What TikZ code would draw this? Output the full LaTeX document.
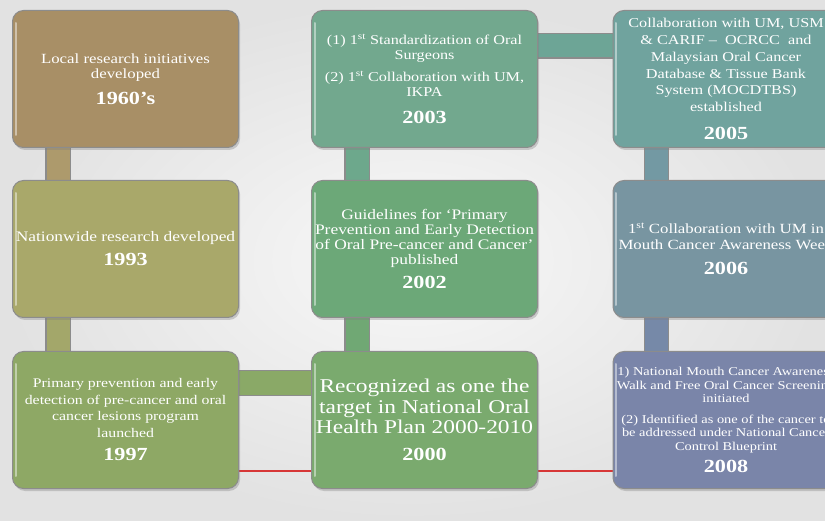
\documentclass[tikz,border=0pt]{standalone}
\usepackage{fontspec}
\setmainfont{Liberation Serif}[FakeStretch=1.2]
\usetikzlibrary{shadows}
\pgfdeclarelayer{bg}
\pgfsetlayers{bg,main}
\definecolor{bgin}{RGB}{248,248,248}
\definecolor{bgout}{RGB}{226,226,226}
\definecolor{cA}{HTML}{A88F66}
\definecolor{cB}{HTML}{A9A86A}
\definecolor{cC}{HTML}{8EA865}
\definecolor{cD}{HTML}{72A88E}
\definecolor{cE}{HTML}{6CA878}
\definecolor{cF}{HTML}{7AAA6E}
\definecolor{cG}{HTML}{70A39E}
\definecolor{cH}{HTML}{7895A1}
\definecolor{cI}{HTML}{7A85A9}
\definecolor{bAB}{HTML}{AD9A6C}
\definecolor{bBC}{HTML}{A3A76A}
\definecolor{bDE}{HTML}{6DA88C}
\definecolor{bEF}{HTML}{70A874}
\definecolor{bGH}{HTML}{7399A3}
\definecolor{bHI}{HTML}{7689A8}
\definecolor{bDG}{HTML}{6DA596}
\definecolor{bCF}{HTML}{8AA967}
\definecolor{redline}{RGB}{215,55,55}
\newcommand\yr[1]{{\fontsize{18.5}{20}\selectfont\bfseries #1}}
\newcommand\ordst{\textsuperscript{st}}
\tikzset{
  tbox/.style={draw=black!45, line width=1pt, rounded corners=11pt,
    minimum width=226pt, minimum height=137pt, inner sep=1pt,
    align=center, text=white,
    drop shadow={shadow xshift=1.5pt, shadow yshift=-2.5pt, opacity=.35}},
  gloss/.style={draw=white, opacity=.45, line width=2pt, line cap=round},
  barline/.style={draw=black!45, line width=1.2pt, double distance=23pt, double=#1},
  redlink/.style={draw=redline, line width=1.5pt}
}
\begin{document}
\begin{tikzpicture}[x=1pt,y=-1pt]
\useasboundingbox (0,0) rectangle (825,521);
\clip (0,0) rectangle (825,521);
% column 1
\node[tbox, fill=cA, font=\fontsize{14}{15.5}\selectfont] (b1960) at (125.5,79)
  {Local research initiatives\\developed\\[10pt]\yr{1960’s}};
\node[tbox, fill=cB, font=\fontsize{14.5}{16}\selectfont] (b1993) at (125.5,249)
  {Nationwide research developed\\[8pt]\yr{1993}};
\node[tbox, fill=cC, font=\fontsize{13.2}{16.5}\selectfont] (b1997) at (125.5,420)
  {Primary prevention and early\\detection of pre-cancer and oral\\cancer lesions program\\launched\\[7pt]\yr{1997}};
% column 2
\node[tbox, fill=cD, font=\fontsize{13.5}{15}\selectfont] (b2003) at (424.5,79)
  {(1) 1\ordst{} Standardization of Oral\\Surgeons\\[7pt](2) 1\ordst{} Collaboration with UM,\\IKPA\\[12pt]\yr{2003}};
\node[tbox, fill=cE, font=\fontsize{14.5}{15}\selectfont] (b2002) at (424.5,249)
  {Guidelines for ‘Primary\\Prevention and Early Detection\\of Oral Pre-cancer and Cancer’\\published\\[8pt]\yr{2002}};
\node[tbox, fill=cF, font=\fontsize{19.5}{20.5}\selectfont] (b2000) at (424.5,420)
  {Recognized as one the\\target in National Oral\\Health Plan 2000-2010\\[6pt]\yr{2000}};
% column 3
\node[tbox, fill=cG, font=\fontsize{13.5}{16.7}\selectfont] (b2005) at (726,79)
  {Collaboration with UM, USM\\\& CARIF –\ \ OCRCC\ \ and\\Malaysian Oral Cancer\\Database \& Tissue Bank\\System (MOCDTBS)\\established\\[11pt]\yr{2005}};
\node[tbox, fill=cH, font=\fontsize{14}{16}\selectfont] (b2006) at (726,249)
  {1\ordst{} Collaboration with UM in\\Mouth Cancer Awareness Week\\[9pt]\yr{2006}};
\node[tbox, fill=cI, font=\fontsize{12}{13.5}\selectfont] (b2008) at (726,420)
  {1) National Mouth Cancer Awareness\\Walk and Free Oral Cancer Screening\\initiated\\[7pt](2) Identified as one of the cancer to\\be addressed under National Cancer\\Control Blueprint\\[6pt]\yr{2008}};
% glossy left edges
\foreach \b in {b1960,b1993,b1997,b2003,b2002,b2000,b2005,b2006,b2008}
  \draw[gloss] ([xshift=3.5pt,yshift=-13pt]\b.north west) -- ([xshift=3.5pt,yshift=13pt]\b.south west);
\begin{pgfonlayer}{bg}
  \shade[inner color=bgin, outer color=bgout] (0,0) rectangle (825,521);
  % vertical bars
  \draw[barline=bAB] ([xshift=46pt]b1960.south west) -- ([xshift=46pt]b1993.north west);
  \draw[barline=bBC] ([xshift=46pt]b1993.south west) -- ([xshift=46pt]b1997.north west);
  \draw[barline=bDE] ([xshift=46pt]b2003.south west) -- ([xshift=46pt]b2002.north west);
  \draw[barline=bEF] ([xshift=46pt]b2002.south west) -- ([xshift=46pt]b2000.north west);
  \draw[barline=bGH] ([xshift=44pt]b2005.south west) -- ([xshift=44pt]b2006.north west);
  \draw[barline=bHI] ([xshift=44pt]b2006.south west) -- ([xshift=44pt]b2008.north west);
  % horizontal bars
  \draw[barline=bDG] ([yshift=-36pt]b2003.north east) -- ([yshift=-36pt]b2005.north west);
  \draw[barline=bCF] ([yshift=-32pt]b1997.north east) -- ([yshift=-32pt]b2000.north west);
  % red lines
  \draw[redlink] ([yshift=18pt]b1997.south east) -- ([yshift=18pt]b2000.south west);
  \draw[redlink] ([yshift=18pt]b2000.south east) -- ([yshift=18pt]b2008.south west);
\end{pgfonlayer}
\end{tikzpicture}
\end{document}
